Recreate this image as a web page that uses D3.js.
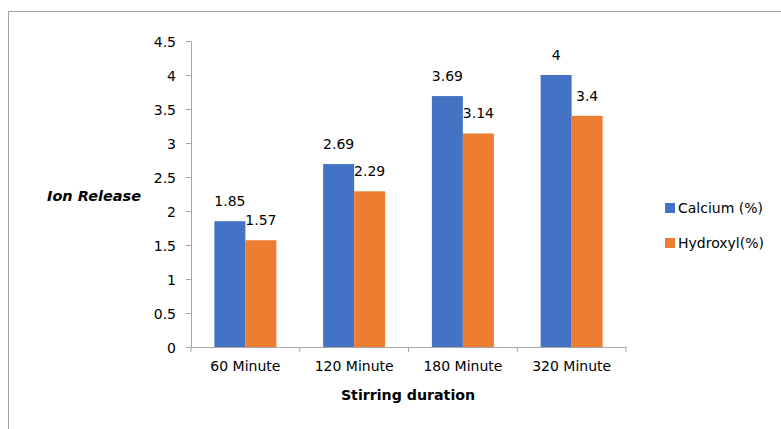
<!DOCTYPE html>
<html><head><meta charset="utf-8">
<script src="https://cdn.jsdelivr.net/npm/d3@7"></script>
<style>body{margin:0;background:#fff}svg{display:block;font-family:"DejaVu Sans",Verdana,sans-serif}</style>
</head><body>
<svg id="c" width="781" height="429"></svg>
<script>
const categories = ["60 Minute","120 Minute","180 Minute","320 Minute"];
const calcium = [1.85, 2.69, 3.69, 4];
const hydroxyl = [1.57, 2.29, 3.14, 3.4];
const seriesNames = ["Calcium (%)","Hydroxyl(%)"];
const yTicks = [0,0.5,1,1.5,2,2.5,3,3.5,4,4.5];
const colors = ["#4472C4","#ED7D31"];

const svg = d3.select("#c");
svg.append("rect").attr("x",8.5).attr("y",11.5).attr("width",800).attr("height",500)
  .attr("fill","none").attr("stroke","#a0a0a0");

const pL=191, pR=626, pT=41, pB=347;
const x = d3.scaleBand().domain(categories).range([pL,pR]).paddingInner(0).paddingOuter(0);
const y = d3.scaleLinear().domain([0,4.5]).range([pB,pT]);
const barW = x.bandwidth()*0.285;
const series = [calcium, hydroxyl];

series.forEach((vals,si)=>{
  const g = svg.append("g");
  g.selectAll("rect").data(vals).join("rect")
    .attr("x",(d,i)=>x(categories[i])+x.bandwidth()/2 - barW + si*barW)
    .attr("y",d=>y(d)).attr("width",barW).attr("height",d=>y(0)-y(d))
    .attr("fill",colors[si]);
  g.selectAll("text").data(vals).join("text")
    .attr("x",(d,i)=>x(categories[i])+x.bandwidth()/2 - barW/2 + si*barW)
    .attr("y",d=>y(d)-15).attr("text-anchor","middle")
    .attr("font-size",14).attr("fill","#000").text(d=>d);
});

const yAxis = svg.append("g").attr("transform",`translate(${pL},0)`)
  .call(d3.axisLeft(y).tickValues(yTicks).tickSize(5).tickPadding(10).tickFormat(d=>String(d)));
const xAxis = svg.append("g").attr("transform",`translate(0,${pB})`)
  .call(d3.axisBottom(x).tickSize(0).tickPadding(14));
const bounds = categories.map(c=>x(c)).concat([pR]);
svg.append("g").selectAll("line").data(bounds).join("line")
  .attr("x1",d=>d).attr("x2",d=>d).attr("y1",pB).attr("y2",pB+5)
  .attr("stroke","#a6a6a6");
[yAxis,xAxis].forEach(a=>{
  a.select(".domain").attr("stroke","#a6a6a6");
  a.selectAll(".tick line").attr("stroke","#a6a6a6");
  a.selectAll("text").attr("font-size",14).attr("fill","#000").attr("font-family","DejaVu Sans");
});
yAxis.selectAll("text").attr("dy","0.36em");

svg.append("text").attr("x",47).attr("y",201).attr("font-size",14.5)
  .attr("font-weight","bold").attr("font-style","italic").text("Ion Release");
svg.append("text").attr("x",408).attr("y",400).attr("text-anchor","middle")
  .attr("font-size",14.2).attr("font-weight","bold").text("Stirring duration");

const lg = svg.append("g");
seriesNames.forEach((n,i)=>{
  lg.append("rect").attr("x",665).attr("y",203+i*35).attr("width",10).attr("height",10).attr("fill",colors[i]);
  lg.append("text").attr("x",678).attr("y",213+i*35).attr("font-size",14).text(n);
});
</script>
</body></html>
